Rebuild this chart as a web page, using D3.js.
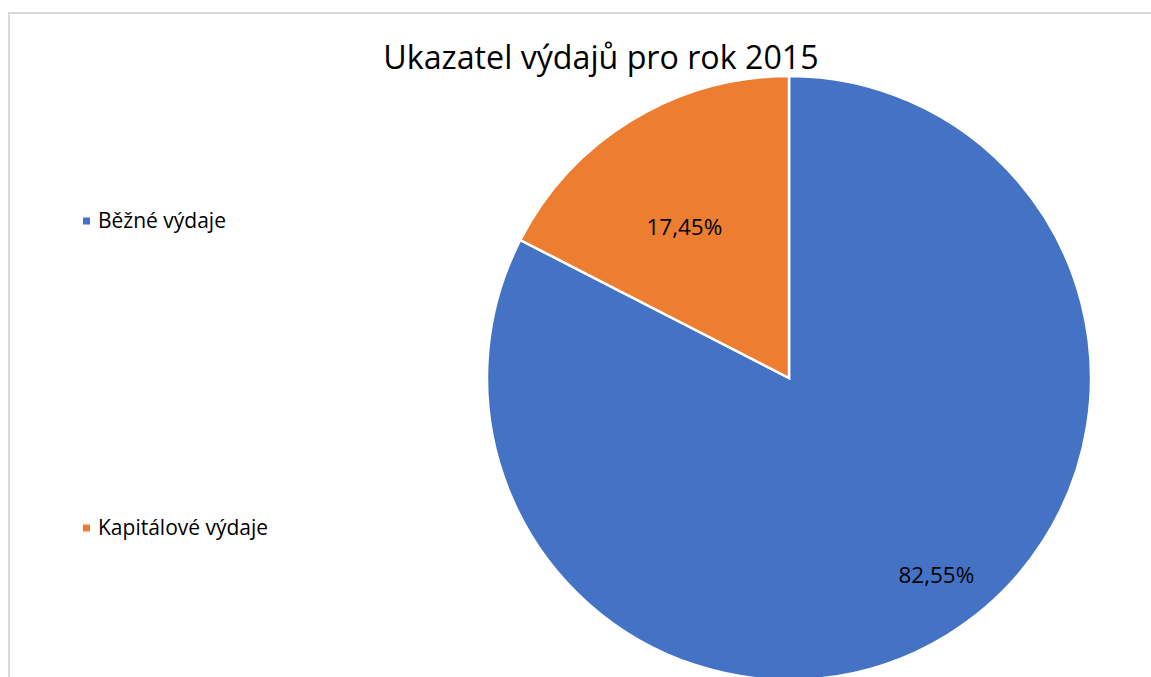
<!DOCTYPE html>
<html>
<head>
<meta charset="utf-8">
<script src="https://cdn.jsdelivr.net/npm/d3@7"></script>
<style>
  body { margin: 0; background: #fff; }
  svg { display: block; font-family: "Open Sans", "Noto Sans", sans-serif; }
</style>
</head>
<body>
<div id="chart"></div>
<script>
// --- data ---
const categories = ["Běžné výdaje", "Kapitálové výdaje"];
const shares = [82.55, 17.45];
const labels = ["82,55%", "17,45%"];
const colors = ["#4472c4", "#ed7d31"];

const W = 1151, H = 677;
const cx = 789, cy = 378, r = 302;

const svg = d3.select('#chart').append('svg')
    .attr('width', W)
    .attr('height', H);

// chart area border
svg.append('rect')
    .attr('x', 9).attr('y', 13)
    .attr('width', W + 20).attr('height', H + 20)
    .attr('fill', 'none')
    .attr('stroke', '#d9d9d9')
    .attr('stroke-width', 2);

// title
svg.append('text')
    .attr('x', 601).attr('y', 69)
    .attr('text-anchor', 'middle')
    .attr('font-size', 32.2)
    .attr('fill', '#000')
    .text('Ukazatel výdajů pro rok 2015');

// --- pie ---
const pie = d3.pie().sort(null).value(d => d);
const arcs = pie(shares);
const arc = d3.arc().innerRadius(0).outerRadius(r);

const g = svg.append('g').attr('transform', `translate(${cx},${cy})`);
g.selectAll('path.slice')
    .data(arcs)
    .join('path')
    .attr('class', 'slice')
    .attr('d', arc)
    .attr('fill', (d, i) => colors[i])
    .attr('stroke', '#fff')
    .attr('stroke-width', 2.5)
    .attr('stroke-linejoin', 'miter');

// data labels (label radius / angle shift per slice, roughly like Excel best fit)
const labelR = [0.816, 0.608];
const angShift = [-0.093, -0.058];
g.selectAll('text.lbl')
    .data(arcs)
    .join('text')
    .attr('class', 'lbl')
    .attr('x', (d, i) => Math.sin((d.startAngle + d.endAngle) / 2 + angShift[i]) * r * labelR[i])
    .attr('y', (d, i) => -Math.cos((d.startAngle + d.endAngle) / 2 + angShift[i]) * r * labelR[i])
    .attr('dy', '0.35em')
    .attr('text-anchor', 'middle')
    .attr('font-size', 22.5)
    .attr('fill', '#000')
    .text((d, i) => labels[i]);

// --- legend ---
const legendY = d3.scalePoint().domain(categories).range([221, 528]);
const leg = svg.append('g');
const item = leg.selectAll('g')
    .data(categories)
    .join('g')
    .attr('transform', d => `translate(83,${legendY(d)})`);
item.append('rect')
    .attr('x', 0).attr('y', -3.5)
    .attr('width', 7).attr('height', 7)
    .attr('fill', (d, i) => colors[i]);
item.append('text')
    .attr('x', 15)
    .attr('dy', '0.35em')
    .attr('font-size', 21)
    .attr('fill', '#000')
    .text(d => d);
</script>
</body>
</html>
